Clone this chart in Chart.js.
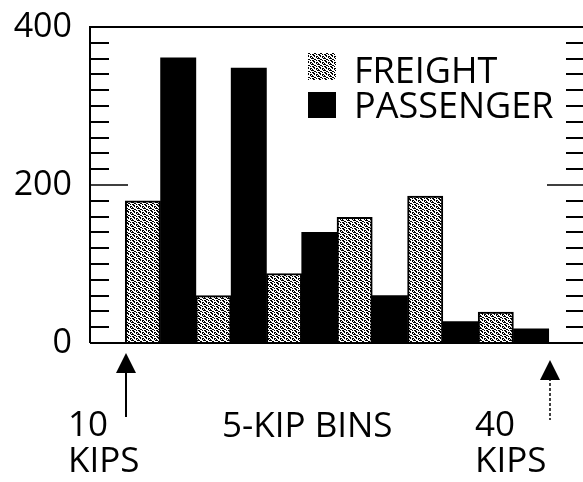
<!DOCTYPE html>
<html>
<head>
<meta charset="utf-8">
<script src="https://cdn.jsdelivr.net/npm/chart.js@4/dist/chart.umd.min.js"></script>
<style>
  html, body { margin: 0; padding: 0; background: #fff; overflow: hidden; }
  canvas { display: block; }
</style>
</head>
<body>
<canvas id="binsChart" width="586" height="482"></canvas>
<script>
// 5-kip bins, 10 to 40 kips
const binStarts = [10, 15, 20, 25, 30, 35];
const binWidth = 5;
const freight = [180, 60, 88, 159, 186, 39];
const passenger = [361, 348, 140, 60, 27, 18];
const yTickLabels = [0, 200, 400];
const seriesNames = ["FREIGHT", "PASSENGER"];

const FONT = '"Open Sans", "DejaVu Sans", sans-serif';

// stipple tile for the freight bars
function stipple() {
  const rows = [
    "XX..X.",
    ".XX...",
    "..X.XX",
    "X...X.",
    "XX...X",
    "..XX..",
  ];
  const c = document.createElement("canvas");
  c.width = 6;
  c.height = 6;
  const g = c.getContext("2d");
  g.fillStyle = "#fff";
  g.fillRect(0, 0, 6, 6);
  g.fillStyle = "#000";
  rows.forEach((r, yy) => {
    for (let xx = 0; xx < r.length; xx++) if (r[xx] === "X") g.fillRect(xx, yy, 1, 1);
  });
  return g.createPattern(c, "repeat");
}
const freightFill = stipple();

// freight sits in the first half of each bin, passenger in the second
const freightPoints = binStarts.map((s, i) => ({ x: s + binWidth / 4, y: freight[i] }));
const passengerPoints = binStarts.map((s, i) => ({ x: s + (binWidth * 3) / 4, y: passenger[i] }));

const decorations = {
  id: "decorations",
  afterDatasetsDraw(chart) {
    const ctx = chart.ctx;
    const a = chart.chartArea;
    const x = chart.scales.x;
    const y = chart.scales.y;
    ctx.save();
    ctx.strokeStyle = "#000";
    ctx.fillStyle = "#000";

    // frame
    ctx.lineWidth = 2;
    ctx.beginPath();
    ctx.moveTo(a.left, a.bottom);
    ctx.lineTo(a.left, a.top);
    ctx.lineTo(a.right, a.top);
    ctx.lineTo(a.right, a.bottom);
    ctx.lineTo(a.left, a.bottom);
    ctx.stroke();

    // inward ticks on both sides
    y.ticks.forEach((t) => {
      if (t.value <= 0 || t.value >= 400) return;
      const py = Math.round(y.getPixelForValue(t.value));
      const major = yTickLabels.includes(t.value);
      ctx.lineWidth = major ? 1.5 : 2;
      ctx.beginPath();
      ctx.moveTo(a.left, py);
      ctx.lineTo(a.left + (major ? 38 : 19), py);
      ctx.moveTo(a.right, py);
      ctx.lineTo(a.right - (major ? 37 : 18), py);
      ctx.stroke();
    });

    // legend
    ctx.font = "36px " + FONT;
    ctx.textBaseline = "alphabetic";
    ctx.textAlign = "left";
    const legendRows = [
      { top: 53, h: 27, base: 83 },
      { top: 92, h: 26, base: 118 },
    ];
    chart.data.datasets.forEach((ds, i) => {
      const r = legendRows[i];
      ctx.fillStyle = ds.backgroundColor;
      ctx.fillRect(308, r.top, 28, r.h);
      ctx.fillStyle = "#000";
      ctx.fillText(ds.label, 354, r.base);
    });

    // arrows at the ends of the binned range
    const arrow = (val, tip, end, dashed) => {
      const px = Math.round(x.getPixelForValue(val)) + 1;
      ctx.beginPath();
      ctx.moveTo(px, tip);
      ctx.lineTo(px - 10, tip + 20);
      ctx.lineTo(px + 10, tip + 20);
      ctx.closePath();
      ctx.fill();
      ctx.lineWidth = dashed ? 1.5 : 2;
      ctx.setLineDash(dashed ? [3, 2] : []);
      ctx.beginPath();
      ctx.moveTo(px, tip + 18);
      ctx.lineTo(px, end);
      ctx.stroke();
      ctx.setLineDash([]);
      return px;
    };
    const lo = arrow(binStarts[0], 353, 417, false);
    const hi = arrow(binStarts[binStarts.length - 1] + binWidth, 360, 420, true);

    ctx.font = "35px " + FONT;
    ctx.fillText(String(binStarts[0]), lo - 58, 436);
    ctx.fillText("KIPS", lo - 58, 472);
    ctx.fillText(String(binStarts[binStarts.length - 1] + binWidth), hi - 75, 436);
    ctx.fillText("KIPS", hi - 75, 472);
    ctx.fillText(binWidth + "-KIP BINS", 222, 437);
    ctx.restore();
  },
};

new Chart(document.getElementById("binsChart"), {
  type: "bar",
  data: {
    datasets: [
      {
        label: seriesNames[0],
        data: freightPoints,
        backgroundColor: freightFill,
        borderColor: "#000",
        borderWidth: 2,
        borderSkipped: "start",
        barPercentage: 1,
        categoryPercentage: 1,
      },
      {
        label: seriesNames[1],
        data: passengerPoints,
        backgroundColor: "#000",
        borderColor: "#000",
        borderWidth: 0,
        barPercentage: 1,
        categoryPercentage: 1,
      },
    ],
  },
  options: {
    responsive: false,
    animation: false,
    events: [],
    layout: { padding: { left: 0, right: 2, top: 27, bottom: 139 } },
    plugins: { legend: { display: false }, tooltip: { enabled: false } },
    scales: {
      x: {
        type: "linear",
        offset: false,
        grid: { offset: false },
        min: binStarts[0] - binWidth / 2,
        max: binStarts[binStarts.length - 1] + binWidth * 1.5,
        stacked: true,
        display: false,
        ticks: { stepSize: binWidth / 2 },
      },
      y: {
        min: 0,
        max: 400,
        afterFit(s) {
          s.width = 90;
          s.paddingTop = 0;
          s.paddingBottom = 0;
        },
        border: { display: false },
        grid: { drawOnChartArea: false, drawTicks: false },
        ticks: {
          stepSize: 20,
          maxTicksLimit: 30,
          autoSkip: false,
          padding: 18,
          color: "#000",
          font: { family: FONT, size: 34 },
          callback: (v) => (yTickLabels.includes(v) ? String(v) : ""),
        },
      },
    },
  },
  plugins: [decorations],
});
</script>
</body>
</html>
